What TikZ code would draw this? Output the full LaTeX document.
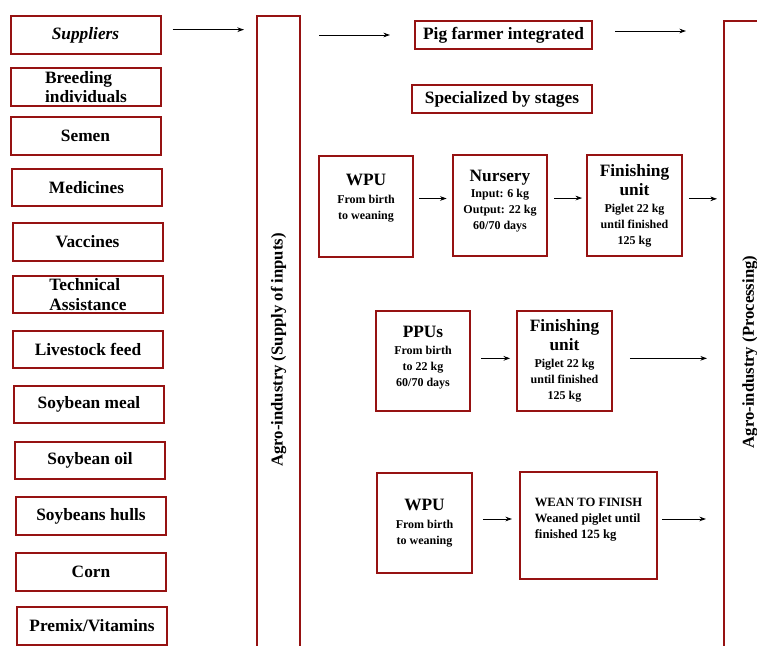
\documentclass[tikz,border=0pt]{standalone}
\usepackage{fontspec}
\setmainfont{Liberation Serif}
\usetikzlibrary{
    arrows.meta,
    positioning
}
\definecolor{boxred}{RGB}{150,18,18}
\newcommand{\hd}[1]{{\fontsize{13}{15}\selectfont #1}}
\newcommand{\lift}[1]{\rule[-#1]{0pt}{0pt}}
\tikzset{
    every picture/.style = {
        > = {Stealth[length = 5pt, width = 3.5pt]}
    },
    box/.style = {
        draw = boxred,
        line width = 1.5pt,
        inner sep = 1pt,
        align = center,
        font = \bfseries\fontsize{13}{14.5}\selectfont
    },
    item/.style = {
        box,
        minimum width = 112.5pt,
        minimum height = 28pt
    },
    stage/.style = {
        box,
        minimum width = 71pt,
        minimum height = 75.5pt,
        font = \bfseries\fontsize{9}{12}\selectfont
    },
    tallbox/.style = {
        box,
        rotate = 90,
        font = \bfseries\fontsize{12.5}{14}\selectfont
    },
    flow/.style = {
        ->,
        line width = 0.7pt
    }
}

\begin{document}
\begin{tikzpicture}[x = 0.75pt, y = -0.75pt]
    \useasboundingbox (0, 0) rectangle (757, 646);
    \clip (0, 0) rectangle (757, 646);

    % suppliers
    \node[item] (sup) at (85.5, 35) {\textit{Suppliers}};
    \node[item, align = left] (breed) at (86, 87) {Breeding\\individuals};
    \node[item] (semen) at (85.5, 136) {Semen};
    \node[item] (med) at (86.5, 187.5) {Medicines};
    \node[item] (vacc) at (87.5, 242) {Vaccines};
    \node[item, align = left] (tech) at (88, 294.5) {Technical\\Assistance};
    \node[item] (feed) at (88, 349.5) {Livestock feed};
    \node[item] (meal) at (89, 404.5) {Soybean meal};
    \node[item] (oil) at (90, 460.5) {Soybean oil};
    \node[item] (hulls) at (91, 516) {Soybeans hulls};
    \node[item] (corn) at (91, 572) {Corn};
    \node[item] (premix) at (92, 626) {Premix/Vitamins};

    % agro-industry columns
    \node[tallbox, minimum width = 501pt, minimum height = 32.25pt] (supply) at (278.5, 350)
        {Agro-industry (Supply of inputs)};
    \node[tallbox, minimum width = 496.5pt, minimum height = 39pt] (proc) at (750, 352)
        {Agro-industry (Processing)};

    % pig farmers
    \node[box, minimum width = 132.75pt, minimum height = 21pt] (pig) at (503.5, 35) {Pig farmer integrated};
    \node[box, minimum width = 135pt, minimum height = 21pt] (spec) at (502, 99) {Specialized by stages};

    \node[stage] (wpuA) at (366, 206.5) {\hd{WPU}\\[1.5pt]From birth\\to weaning\lift{15pt}};
    \node[stage] (nursery) at (500, 205.5) {\hd{Nursery}\\Input: 6 kg\\Output: 22 kg\\60/70 days\lift{9pt}};
    \node[stage] (finA) at (634.5, 205.5) {\hd{Finishing}\\[2.25pt]\hd{unit}\\[0.75pt]Piglet 22 kg\\until finished\\125 kg};

    \node[stage, minimum height = 75pt] (ppu) at (423, 361) {\hd{PPUs}\\[0.5pt]From birth\\to 22 kg\\60/70 days\lift{7pt}};
    \node[stage, minimum height = 75pt] (finB) at (564.5, 361) {\hd{Finishing}\\[2.25pt]\hd{unit}\\[0.75pt]Piglet 22 kg\\until finished\\125 kg};

    \node[stage, minimum height = 75pt] (wpuB) at (424.5, 523) {\hd{WPU}\\[1.5pt]From birth\\to weaning};
    \node[stage, minimum width = 102.75pt, minimum height = 80.25pt, align = left,
          font = \bfseries\fontsize{9.5}{12}\selectfont] (wtf) at (588.5, 525.5)
        {WEAN TO FINISH\\Weaned piglet until\\finished 125 kg\lift{11pt}};

    % arrows
    \draw[flow, shorten <= 8.3pt, shorten >= 9pt] ([yshift = 4pt]sup.east) -- ([yshift = 4pt]sup.east -| supply.north);
    \draw[flow, shorten <= 13.5pt, shorten >= 18pt] (pig.west -| supply.south) -- (pig.west);
    \draw[flow, shorten <= 16.5pt, shorten >= 27.75pt] ([yshift = 3pt]pig.east) -- ([yshift = 3pt]pig.east -| proc.north);
    \draw[flow, shorten <= 3.75pt, shorten >= 3.75pt] ([yshift = 6pt]wpuA.east) -- ([yshift = 6pt]wpuA.east -| nursery.west);
    \draw[flow, shorten <= 4.5pt, shorten >= 3pt] ([yshift = 5.6pt]nursery.east) -- ([yshift = 5.6pt]nursery.east -| finA.west);
    \draw[flow, shorten <= 4.5pt, shorten >= 4.5pt] ([yshift = 5pt]finA.east) -- ([yshift = 5pt]finA.east -| proc.north);
    \draw[flow, shorten <= 7.5pt, shorten >= 4.5pt] ([yshift = 2pt]ppu.east) -- ([yshift = 2pt]ppu.east -| finB.west);
    \draw[flow, shorten <= 12.75pt, shorten >= 12pt] ([yshift = 2pt]finB.east) -- ([yshift = 2pt]finB.east -| proc.north);
    \draw[flow, shorten <= 7.5pt, shorten >= 5.25pt] ([yshift = 3pt]wpuB.east) -- ([yshift = 3pt]wpuB.east -| wtf.west);
    \draw[flow, shorten <= 3pt, shorten >= 12.75pt] ([yshift = 4.9pt]wtf.east) -- ([yshift = 4.9pt]wtf.east -| proc.north);
\end{tikzpicture}
\end{document}
